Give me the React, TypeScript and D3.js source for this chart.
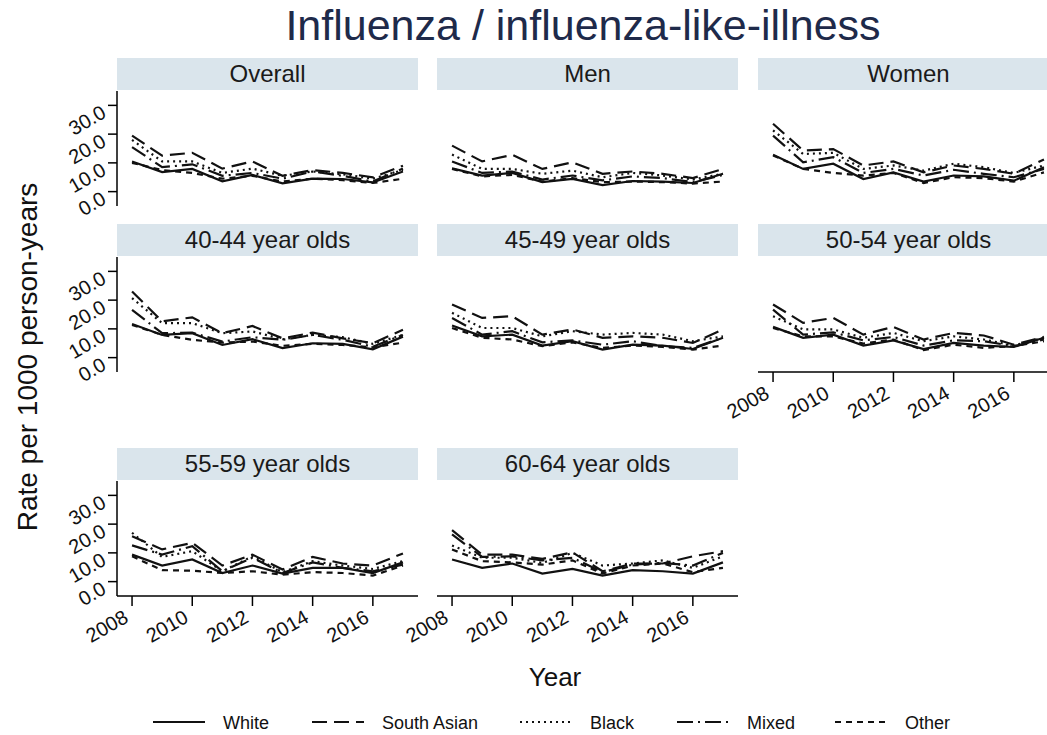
import React, { useEffect, useRef } from 'react';
import * as d3 from 'd3';

const years = [2008, 2009, 2010, 2011, 2012, 2013, 2014, 2015, 2016, 2017];
const races = ['White', 'South Asian', 'Black', 'Mixed', 'Other'];
const yTicks = [0, 10, 20, 30];
const xTicks = [2008, 2010, 2012, 2014, 2016];
const panelTitles = ['Overall', 'Men', 'Women', '40-44 year olds', '45-49 year olds', '50-54 year olds', '55-59 year olds', '60-64 year olds'];

// one row per race, in the order of `races`
const overall = [
  [10.5, 6.8, 7.9, 3.6, 5.8, 2.9, 4.5, 4.4, 3.2, 7.0],
  [19.5, 12.5, 13.5, 8.0, 10.5, 5.5, 7.5, 6.5, 5.0, 9.0],
  [18.0, 10.5, 10.5, 6.5, 8.0, 5.5, 7.0, 6.0, 4.5, 7.5],
  [15.5, 8.5, 9.5, 5.5, 6.5, 4.5, 7.0, 5.5, 3.5, 8.0],
  [10.0, 7.5, 6.5, 4.5, 5.5, 3.5, 4.5, 4.0, 3.0, 4.5],
];
const men = [
  [8.1, 5.6, 6.5, 3.3, 4.4, 2.3, 3.7, 3.5, 3.0, 6.2],
  [16.0, 10.5, 12.8, 7.9, 10.2, 6.2, 7.0, 6.2, 4.7, 7.9],
  [12.9, 7.9, 7.9, 6.2, 7.3, 5.0, 6.5, 5.6, 4.2, 6.2],
  [10.5, 6.5, 7.0, 4.2, 5.6, 3.9, 5.3, 4.7, 3.3, 5.8],
  [7.9, 5.3, 5.8, 3.5, 4.7, 3.3, 3.5, 3.3, 2.8, 3.5],
];
const women = [
  [12.8, 7.9, 9.7, 4.4, 6.7, 3.5, 5.6, 5.3, 3.8, 8.5],
  [23.6, 14.3, 14.8, 9.1, 10.5, 6.7, 9.1, 7.9, 6.2, 11.2],
  [21.3, 13.1, 13.5, 7.9, 9.1, 7.3, 9.7, 8.5, 6.5, 9.1],
  [19.5, 10.2, 12.0, 6.5, 7.9, 5.6, 7.6, 6.2, 5.0, 7.9],
  [12.6, 7.9, 6.5, 5.6, 6.5, 3.0, 5.0, 4.7, 3.5, 6.7],
];
const age4044 = [
  [11.7, 7.9, 8.5, 4.4, 6.4, 3.3, 5.0, 4.8, 2.9, 7.3],
  [23.0, 12.6, 14.0, 8.5, 11.0, 6.7, 8.7, 6.7, 5.0, 9.7],
  [20.7, 12.0, 12.0, 8.5, 9.1, 6.4, 7.9, 7.1, 4.8, 7.9],
  [16.6, 8.5, 8.7, 5.6, 7.1, 6.2, 7.9, 6.2, 3.8, 7.9],
  [11.4, 7.9, 6.2, 5.2, 5.6, 4.1, 4.8, 4.4, 3.6, 5.2],
];
const age4549 = [
  [11.2, 7.4, 8.0, 4.2, 5.7, 2.8, 4.5, 4.2, 3.0, 6.9],
  [18.5, 13.8, 14.4, 8.0, 9.8, 6.9, 7.4, 6.9, 5.1, 9.8],
  [15.6, 10.3, 10.3, 7.4, 9.2, 8.0, 8.6, 8.0, 5.7, 7.4],
  [13.8, 8.0, 9.2, 5.3, 6.0, 4.5, 5.7, 4.0, 3.4, 6.9],
  [10.3, 6.9, 6.3, 4.0, 5.3, 3.4, 4.2, 3.7, 2.8, 4.2],
];
const age5054 = [
  [10.7, 6.9, 8.0, 4.2, 6.0, 3.0, 5.1, 4.2, 3.7, 6.9],
  [18.5, 12.1, 13.8, 8.0, 10.7, 6.3, 8.6, 7.7, 4.5, 7.2],
  [14.4, 9.8, 9.8, 6.9, 8.6, 5.7, 7.4, 6.3, 4.2, 6.9],
  [16.7, 8.0, 8.8, 6.0, 7.2, 4.2, 6.0, 5.7, 4.0, 6.3],
  [10.3, 7.4, 7.4, 4.9, 6.3, 2.6, 4.5, 3.4, 4.0, 5.7],
];
const age5559 = [
  [9.4, 5.6, 7.7, 3.0, 5.6, 2.8, 4.8, 4.8, 3.0, 6.7],
  [15.8, 11.2, 13.5, 5.6, 9.4, 4.2, 8.6, 6.3, 5.6, 9.8],
  [17.0, 8.6, 10.6, 3.6, 8.8, 3.3, 7.1, 5.6, 4.4, 7.1],
  [12.6, 9.4, 12.3, 3.6, 8.3, 3.0, 6.7, 4.8, 3.6, 5.9],
  [8.8, 4.0, 3.8, 3.0, 3.6, 2.4, 3.3, 3.0, 2.1, 5.6],
];
const age6064 = [
  [7.7, 4.8, 6.3, 2.8, 4.4, 2.1, 4.0, 3.6, 2.8, 6.7],
  [17.9, 9.4, 9.4, 7.9, 10.2, 3.6, 6.3, 6.3, 8.8, 10.6],
  [12.6, 8.3, 8.3, 6.5, 10.0, 5.6, 6.3, 7.4, 4.8, 8.8],
  [16.4, 8.6, 8.8, 7.4, 8.3, 3.3, 5.9, 6.5, 5.6, 10.0],
  [11.2, 7.1, 6.7, 5.9, 7.4, 2.8, 5.6, 6.3, 3.3, 4.8],
];
const panelData = [overall, men, women, age4044, age4549, age5054, age5559, age6064];

const dashes = ['none', '15,7', '2,4', '16,5,2,5', '6,5'];
const FONT = '"Liberation Sans", Arial, Helvetica, sans-serif';

const App = () => {
  const ref = useRef<SVGSVGElement>(null);

  useEffect(() => {
    const svg = d3.select(ref.current);
    svg.selectAll('*').remove();

    const colLeft = [117, 437, 758];
    const rowBottom = [206, 372, 596];
    const pw = 301;
    const ph = 115;

    svg.append('text')
      .attr('x', 583).attr('y', 40)
      .attr('text-anchor', 'middle')
      .attr('font-size', 43).attr('fill', '#1e2a4a')
      .text('Influenza / influenza-like-illness');

    panelTitles.forEach((title, p) => {
      const r = Math.floor(p / 3);
      const c = p % 3;
      const left = colLeft[c];
      const bottom = rowBottom[r];
      const top = bottom - ph;

      const x = d3.scaleLinear().domain([2007.5, 2017.5]).range([left, left + pw]);
      const y = d3.scaleLinear().domain([-5, 35]).range([bottom, top]);

      const g = svg.append('g');

      g.append('rect')
        .attr('x', left).attr('y', top - 33)
        .attr('width', pw).attr('height', 32)
        .attr('fill', '#dae5ec');
      g.append('text')
        .attr('x', left + pw / 2).attr('y', top - 9)
        .attr('text-anchor', 'middle')
        .attr('font-size', 24).attr('fill', '#1a1a1a')
        .text(title);

      const line = d3.line<number>()
        .x((d, i) => x(years[i]))
        .y(d => y(d));

      panelData[p].forEach((vals, k) => {
        g.append('path')
          .datum(vals)
          .attr('fill', 'none')
          .attr('stroke', '#111')
          .attr('stroke-width', 2.2)
          .attr('stroke-dasharray', dashes[k])
          .attr('d', line);
      });

      if (c === 0) {
        g.append('line')
          .attr('x1', left).attr('x2', left)
          .attr('y1', top).attr('y2', bottom)
          .attr('stroke', '#000').attr('stroke-width', 1.5);
        yTicks.forEach(t => {
          g.append('line')
            .attr('x1', left - 9).attr('x2', left)
            .attr('y1', y(t)).attr('y2', y(t))
            .attr('stroke', '#000').attr('stroke-width', 1.5);
          g.append('text')
            .attr('transform', `translate(${left - 13},${y(t) + 5}) rotate(-30)`)
            .attr('text-anchor', 'end')
            .attr('dy', '0.35em')
            .attr('font-size', 20).attr('fill', '#111')
            .text(t.toFixed(1));
        });
      }

      if (p >= 5) {
        g.append('line')
          .attr('x1', left).attr('x2', left + pw)
          .attr('y1', bottom).attr('y2', bottom)
          .attr('stroke', '#000').attr('stroke-width', 1.5);
        xTicks.forEach(t => {
          g.append('line')
            .attr('x1', x(t)).attr('x2', x(t))
            .attr('y1', bottom).attr('y2', bottom + 10)
            .attr('stroke', '#000').attr('stroke-width', 1.5);
          g.append('text')
            .attr('transform', `translate(${x(t) - 6},${bottom + 19}) rotate(-30)`)
            .attr('text-anchor', 'end')
            .attr('dy', '0.35em')
            .attr('font-size', 20).attr('fill', '#111')
            .text(t);
        });
      }
    });

    svg.append('text')
      .attr('transform', 'translate(37,357) rotate(-90)')
      .attr('text-anchor', 'middle')
      .attr('font-size', 28).attr('fill', '#111')
      .text('Rate per 1000 person-years');

    svg.append('text')
      .attr('x', 555).attr('y', 686)
      .attr('text-anchor', 'middle')
      .attr('font-size', 26).attr('fill', '#111')
      .text('Year');

    // legend
    const legendX = [153, 312, 520, 677, 835];
    races.forEach((name, k) => {
      const lx = legendX[k];
      svg.append('line')
        .attr('x1', lx).attr('x2', lx + 52)
        .attr('y1', 722).attr('y2', 722)
        .attr('stroke', '#111').attr('stroke-width', 2)
        .attr('stroke-dasharray', dashes[k]);
      svg.append('text')
        .attr('x', lx + 70).attr('y', 729)
        .attr('font-size', 18).attr('fill', '#111')
        .text(name);
    });
  }, []);

  return (
    <svg
      ref={ref}
      width={1047}
      height={735}
      style={{ position: 'absolute', left: 0, top: 0, background: '#fff', fontFamily: FONT }}
    />
  );
};

export default App;
